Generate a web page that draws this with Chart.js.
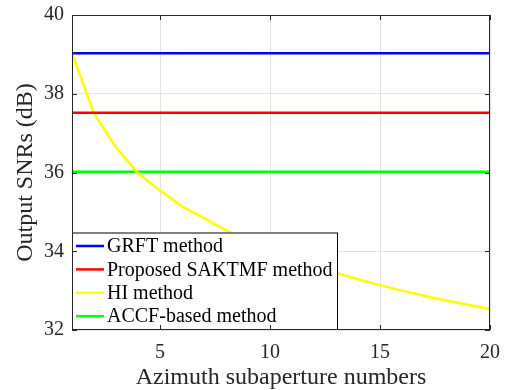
<!DOCTYPE html>
<html>
<head>
<meta charset="utf-8">
<script src="https://cdn.jsdelivr.net/npm/chart.js@4.4.0/dist/chart.umd.min.js"></script>
<style>
  html, body { margin: 0; padding: 0; background: #fff; }
  #wrap { width: 510px; height: 390px; }
</style>
</head>
<body>
<div id="wrap"><canvas id="chart" width="510" height="390"></canvas></div>
<script>
// values
const subapertures = [1, 2, 3, 4, 5, 6, 7, 8, 9, 10, 11, 12, 13, 14, 15, 16, 17, 18, 19, 20];
const grftSnr = [39.03, 39.03, 39.03, 39.03, 39.03, 39.03, 39.03, 39.03, 39.03, 39.03,
                 39.03, 39.03, 39.03, 39.03, 39.03, 39.03, 39.03, 39.03, 39.03, 39.03];
const saktmfSnr = [37.52, 37.52, 37.52, 37.52, 37.52, 37.52, 37.52, 37.52, 37.52, 37.52,
                   37.52, 37.52, 37.52, 37.52, 37.52, 37.52, 37.52, 37.52, 37.52, 37.52];
const hiSnr = [39.03, 37.50, 36.64, 35.98, 35.54, 35.14, 34.84, 34.53, 34.28, 34.04,
               33.83, 33.63, 33.45, 33.29, 33.14, 33.00, 32.87, 32.75, 32.64, 32.53];
const accfSnr = [36.02, 36.02, 36.02, 36.02, 36.02, 36.02, 36.02, 36.02, 36.02, 36.02,
                 36.02, 36.02, 36.02, 36.02, 36.02, 36.02, 36.02, 36.02, 36.02, 36.02];
const xTicks = [5, 10, 15, 20];
const yTicks = [32, 34, 36, 38, 40];

const serif = "'Liberation Serif', 'Times New Roman', serif";
const axisColor = "#262626";

const pts = (arr) => subapertures.map((x, i) => ({ x: x, y: arr[i] }));

const mk = (label, arr, color) => ({
  label: label,
  data: pts(arr),
  borderColor: color,
  backgroundColor: color,
  borderWidth: 2.5,
  pointRadius: 0,
  tension: 0,
  fill: false,
});

// legend box inside the plot + axes frame with inward ticks
const framePlugin = {
  id: "frame",
  afterDraw(chart) {
    const { ctx, chartArea: a, scales } = chart;
    ctx.save();

    // legend
    const lx = a.left, ly = 232.5, lw = 266, lh = a.bottom - ly;
    ctx.fillStyle = "#fff";
    ctx.fillRect(lx, ly, lw, lh);
    ctx.strokeStyle = "#000";
    ctx.lineWidth = 1;
    ctx.strokeRect(lx + 0.5, ly + 0.5, lw - 1, lh - 1);
    ctx.font = "20px " + serif;
    ctx.textBaseline = "middle";
    ctx.textAlign = "left";
    chart.data.datasets.forEach((ds, i) => {
      const cy = ly + 13.5 + i * 23.4;
      ctx.strokeStyle = ds.borderColor;
      ctx.lineWidth = 2.5;
      ctx.beginPath();
      ctx.moveTo(lx + 4, cy);
      ctx.lineTo(lx + 32, cy);
      ctx.stroke();
      ctx.fillStyle = "#000";
      ctx.fillText(ds.label, lx + 35, cy + 1);
    });

    // frame
    ctx.strokeStyle = axisColor;
    ctx.lineWidth = 1;
    ctx.strokeRect(Math.round(a.left) + 0.5, Math.round(a.top) + 0.5,
                   Math.round(a.right - a.left) - 1, Math.round(a.bottom - a.top) - 1);

    // inward tick marks
    const tl = 5;
    ctx.beginPath();
    xTicks.forEach((v) => {
      const x = Math.round(scales.x.getPixelForValue(v)) + 0.5;
      ctx.moveTo(x, a.bottom); ctx.lineTo(x, a.bottom - tl);
      ctx.moveTo(x, a.top); ctx.lineTo(x, a.top + tl);
    });
    yTicks.forEach((v) => {
      const y = Math.round(scales.y.getPixelForValue(v)) + 0.5;
      ctx.moveTo(a.left, y); ctx.lineTo(a.left + tl, y);
      ctx.moveTo(a.right, y); ctx.lineTo(a.right - tl, y);
    });
    ctx.stroke();
    ctx.restore();
  },
};

new Chart(document.getElementById("chart"), {
  type: "line",
  data: {
    datasets: [
      mk("GRFT method", grftSnr, "#0000ff"),
      mk("Proposed SAKTMF method", saktmfSnr, "#ff0000"),
      mk("HI method", hiSnr, "#ffff00"),
      mk("ACCF-based method", accfSnr, "#00ff00"),
    ],
  },
  options: {
    responsive: false,
    animation: false,
    layout: { padding: { left: 0, right: 20, top: 15, bottom: 0 } },
    plugins: { legend: { display: false }, tooltip: { enabled: false } },
    scales: {
      x: {
        type: "linear",
        min: 1,
        max: 20,
        afterBuildTicks: (s) => { s.ticks = xTicks.map((v) => ({ value: v })); },
        afterFit: (s) => { s.height = 60; s.paddingLeft = 0; s.paddingRight = 0; },
        ticks: { font: { family: serif, size: 20 }, color: axisColor, padding: 11, maxRotation: 0 },
        grid: { color: "#e3e3e3", drawTicks: false },
        border: { display: false },
        title: {
          display: true,
          text: "Azimuth subaperture numbers",
          font: { family: serif, size: 24, lineHeight: 1 },
          color: axisColor,
          padding: 0,
        },
      },
      y: {
        min: 32,
        max: 40,
        afterBuildTicks: (s) => { s.ticks = yTicks.map((v) => ({ value: v })); },
        afterFit: (s) => { s.width = 72; s.paddingTop = 0; s.paddingBottom = 0; },
        ticks: { font: { family: serif, size: 20 }, color: axisColor, padding: 8 },
        grid: { color: "#e3e3e3", drawTicks: false },
        border: { display: false },
        title: {
          display: true,
          text: "Output SNRs (dB)",
          font: { family: serif, size: 24, lineHeight: 1.2 },
          color: axisColor,
          padding: { top: 11, bottom: 0 },
        },
      },
    },
  },
  plugins: [framePlugin],
});
</script>
</body>
</html>
